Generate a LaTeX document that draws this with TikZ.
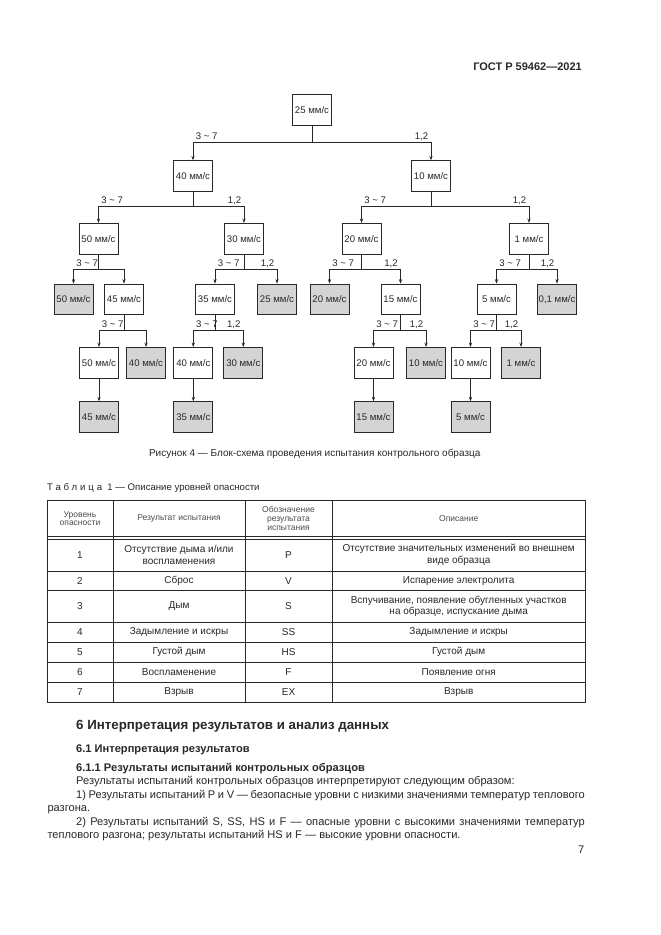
\documentclass[tikz,border=0pt]{standalone}
\usepackage{fontspec}
\setmainfont{Liberation Sans}
\usetikzlibrary{arrows.meta}
\definecolor{boxgray}{RGB}{212,212,212}
\definecolor{ink}{RGB}{40,40,40}
\newcommand\fsz[2]{\fontsize{#1}{#2}\selectfont}
\newcommand\lftbr[3]{\draw[arr] (#1.south) |- (#2.north |- 0,#3) node[lbl,anchor=base west,xshift=2.5pt,yshift=3pt]{3 \textasciitilde{} 7} -- (#2.north);}
\newcommand\rgtbr[3]{\draw[arr] (#1.south) |- (#2.north |- 0,#3) node[lbl,anchor=base east,xshift=-2.5pt,yshift=3pt]{1,2} -- (#2.north);}
\newcommand\plainbr[3]{\draw[arr] (#1.south) |- (#2.north |- 0,#3) -- (#2.north);}
\begin{document}
\begin{tikzpicture}[x=1pt,y=-1pt,
  box/.style={draw=ink, line width=0.8pt, minimum width=39pt, minimum height=30.5pt, inner sep=0pt, font=\fsz{9.6}{10}, text=ink, fill=white},
  res/.style={box, fill=boxgray},
  arr/.style={draw=ink, line width=0.8pt, -{Stealth[length=4.5pt,width=3.2pt]}},
  lbl/.style={inner sep=0pt, font=\fsz{9.6}{10}, text=ink},
  tbl/.style={draw=ink, line width=0.8pt},
  thead/.style={inner sep=0pt, align=center, font=\fsz{8.5}{8.8}, text=black!70},
  tcell/.style={inner sep=0pt, align=center, font=\fsz{10}{11.7}, text=ink},
  body/.style={inner sep=0pt, anchor=base west, font=\fsz{11.1}{13}, text=ink},
  head/.style={inner sep=0pt, anchor=base west, text=ink}
]
\useasboundingbox[fill=white] (0,0) rectangle (661,935);

% header
\node[head, anchor=base east, font=\bfseries\fsz{11}{13}] (hdr) at (582,70.6) {ГОСТ Р 59462—2021};

% tree nodes
\node[box] (n0) at (312,109.7) {25 мм/с};
\node[box] (n1a) at (193,176) {40 мм/с};
\node[box] (n1b) at (431,176) {10 мм/с};
\node[box] (n2a) at (98.5,238.7) {50 мм/с};
\node[box] (n2b) at (244,238.7) {30 мм/с};
\node[box] (n2c) at (361.5,238.7) {20 мм/с};
\node[box] (n2d) at (529,238.7) {1 мм/с};
\node[res] (n3a) at (73.5,299.3) {50 мм/с};
\node[box] (n3b) at (124,299.3) {45 мм/с};
\node[box] (n3c) at (215,299.3) {35 мм/с};
\node[res] (n3d) at (277,299.3) {25 мм/с};
\node[res] (n3e) at (329.5,299.3) {20 мм/с};
\node[box] (n3f) at (400.5,299.3) {15 мм/с};
\node[box] (n3g) at (496.5,299.3) {5 мм/с};
\node[res] (n3h) at (557,299.3) {0,1 мм/с};
\node[box] (n4a) at (99,362.7) {50 мм/с};
\node[res] (n4b) at (146,362.7) {40 мм/с};
\node[box] (n4c) at (193.3,362.7) {40 мм/с};
\node[res] (n4d) at (243.3,362.7) {30 мм/с};
\node[box] (n4e) at (373.5,362.7) {20 мм/с};
\node[res] (n4f) at (426,362.7) {10 мм/с};
\node[box] (n4g) at (470.5,362.7) {10 мм/с};
\node[res] (n4h) at (521,362.7) {1 мм/с};
\node[res] (n5a) at (99,417) {45 мм/с};
\node[res] (n5b) at (193.3,417) {35 мм/с};
\node[res] (n5c) at (373.5,417) {15 мм/с};
\node[res] (n5d) at (470.5,417) {5 мм/с};

% connectors
\lftbr{n0}{n1a}{142.5} \rgtbr{n0}{n1b}{142.5}
\lftbr{n1a}{n2a}{206.5} \rgtbr{n1a}{n2b}{206.5}
\lftbr{n1b}{n2c}{206.5} \rgtbr{n1b}{n2d}{206.5}
\lftbr{n2a}{n3a}{269} \plainbr{n2a}{n3b}{269}
\lftbr{n2b}{n3c}{269} \rgtbr{n2b}{n3d}{269}
\lftbr{n2c}{n3e}{269} \rgtbr{n2c}{n3f}{269}
\lftbr{n2d}{n3g}{269} \rgtbr{n2d}{n3h}{269}
\lftbr{n3b}{n4a}{330} \plainbr{n3b}{n4b}{330}
\lftbr{n3c}{n4c}{330} \rgtbr{n3c}{n4d}{330}
\lftbr{n3f}{n4e}{330} \rgtbr{n3f}{n4f}{330}
\lftbr{n3g}{n4g}{330} \rgtbr{n3g}{n4h}{330}
\draw[arr] (n4a.south) -- (n5a.north);
\draw[arr] (n4c.south) -- (n5b.north);
\draw[arr] (n4e.south) -- (n5c.north);
\draw[arr] (n4g.south) -- (n5d.north);

% caption
\node[inner sep=0pt, font=\fsz{10}{12}, text=ink] (cap) at (314.7,454.3) {Рисунок 4 — Блок-схема проведения испытания контрольного образца};

% table caption
\node[head, font=\fsz{9.6}{11}] (tcap) at (47,490) {{\addfontfeature{LetterSpace=30}Таблица}\ \ 1 — Описание уровней опасности};

% table grid
\draw[tbl] (47,500.5) rectangle (585.5,702);
\foreach \xx in {113,245,332} \draw[tbl] (\xx,500.5) -- (\xx,702);
\foreach \yy in {536.6,539,571,590.5,622.5,642,662,682} \draw[tbl] (47,\yy) -- (585.5,\yy);

% table header
\node[thead] (h1) at (80,518.6) {Уровень\\опасности};
\node[thead] (h2) at (179,518.6) {Результат испытания};
\node[thead] (h3) at (288.5,518.6) {Обозначение\\результата\\испытания};
\node[thead] (h4) at (458.7,518.6) {Описание};

% rows
\node[tcell] (r1a) at (80,555) {1};
\node[tcell] (r1b) at (179,555) {Отсутствие дыма и/или\\воспламенения};
\node[tcell] (r1c) at (288.5,555) {P};
\node[tcell] (r1d) at (458.7,555) {Отсутствие значительных изменений во внешнем\\виде образца};
\node[tcell] (r2a) at (80,580.7) {2};
\node[tcell] (r2b) at (179,580.7) {Сброс};
\node[tcell] (r2c) at (288.5,580.7) {V};
\node[tcell] (r2d) at (458.7,580.7) {Испарение электролита};
\node[tcell] (r3a) at (80,606.5) {3};
\node[tcell] (r3b) at (179,606.5) {Дым};
\node[tcell] (r3c) at (288.5,606.5) {S};
\node[tcell] (r3d) at (458.7,606.5) {Вспучивание, появление обугленных участков\\на образце, испускание дыма};
\node[tcell] (r4a) at (80,632) {4};
\node[tcell] (r4b) at (179,632) {Задымление и искры};
\node[tcell] (r4c) at (288.5,632) {SS};
\node[tcell] (r4d) at (458.7,632) {Задымление и искры};
\node[tcell] (r5a) at (80,652) {5};
\node[tcell] (r5b) at (179,652) {Густой дым};
\node[tcell] (r5c) at (288.5,652) {HS};
\node[tcell] (r5d) at (458.7,652) {Густой дым};
\node[tcell] (r6a) at (80,672) {6};
\node[tcell] (r6b) at (179,672) {Воспламенение};
\node[tcell] (r6c) at (288.5,672) {F};
\node[tcell] (r6d) at (458.7,672) {Появление огня};
\node[tcell] (r7a) at (80,692) {7};
\node[tcell] (r7b) at (179,692) {Взрыв};
\node[tcell] (r7c) at (288.5,692) {EX};
\node[tcell] (r7d) at (458.7,692) {Взрыв};

% section text
\node[head, font=\bfseries\fsz{13.3}{15}] (s6) at (76,729.5) {6 Интерпретация результатов и анализ данных};
\node[head, font=\bfseries\fsz{11.1}{12}] (s61) at (76,752.8) {6.1 Интерпретация результатов};
\node[head, font=\bfseries\fsz{11.1}{12}] (s611) at (76,771.3) {6.1.1 Результаты испытаний контрольных образцов};
\node[body] (p0) at (76,784.7) {Результаты испытаний контрольных образцов интерпретируют следующим образом:};
\node[body] (p1) at (76,798.6) {\makebox[508.6pt][s]{1) Результаты испытаний P и V — безопасные уровни с низкими значениями температур теплового}};
\node[body] (p1b) at (47.3,811.2) {разгона.};
\node[body] (p2) at (76,825.2) {\makebox[508.6pt][s]{2) Результаты испытаний S, SS, HS и F — опасные уровни с высокими значениями температур}};
\node[body] (p2b) at (47.3,838.2) {теплового разгона; результаты испытаний HS и F — высокие уровни опасности.};
\node[body, anchor=base east] (pg) at (584.6,853.8) {7};
\end{tikzpicture}
\end{document}
